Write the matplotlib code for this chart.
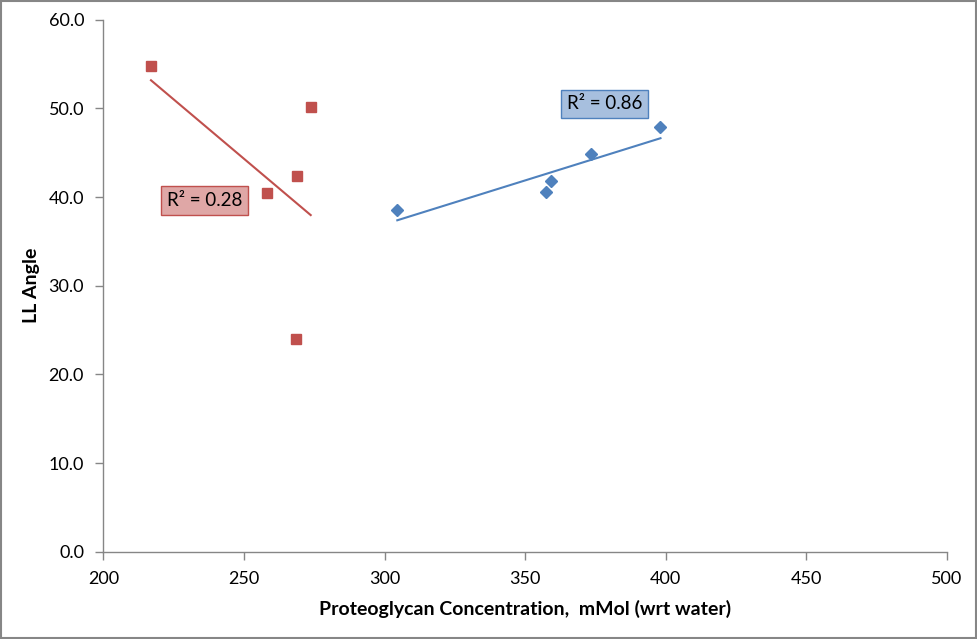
import numpy as np
import matplotlib
matplotlib.use('Agg')
import matplotlib.pyplot as plt
import matplotlib.patches as mpatches

# red series (squares)
red_x = [216.9, 273.7, 269.0, 258.0, 268.4]
red_y = [54.8, 50.2, 42.4, 40.5, 24.0]
# blue series (diamonds)
blue_x = [304.5, 357.5, 359.2, 373.4, 398.1]
blue_y = [38.5, 40.6, 41.8, 44.8, 47.9]

red_label = 'R² = 0.28'
blue_label = 'R² = 0.86'

x_ticks = [200, 250, 300, 350, 400, 450, 500]
y_ticks = [0, 10, 20, 30, 40, 50, 60]

red = '#C0504D'
blue = '#4F81BD'
axis_grey = '#868686'

plt.rcParams['font.family'] = ['Lato', 'DejaVu Sans']

fig = plt.figure(figsize=(9.78, 6.39), dpi=100, facecolor='w')
ax = fig.add_axes([0.1058, 0.1366, 0.8625, 0.8326])

ax.plot(red_x, red_y, ls='none', marker='s', ms=7.2, color=red, mec=red)
ax.plot(blue_x, blue_y, ls='none', marker='D', ms=6.5, color=blue, mec=blue)

# linear trendlines
for xs, ys, c in [(red_x, red_y, red), (blue_x, blue_y, blue)]:
    k, b = np.polyfit(xs, ys, 1)
    xx = np.array([min(xs), max(xs)])
    ax.plot(xx, k * xx + b, color=c, lw=1.5)

ax.text(235.9, 39.6, red_label, fontsize=13.5, ha='center', va='center',
        bbox=dict(boxstyle='square,pad=0.3', fc='#DFA7A6', ec=red, lw=1))
ax.text(378.2, 50.5, blue_label, fontsize=13.5, ha='center', va='center',
        bbox=dict(boxstyle='square,pad=0.3', fc='#A7BFDE', ec=blue, lw=1))

ax.set_xlim(200, 500)
ax.set_ylim(0, 60)
ax.set_xticks(x_ticks)
ax.set_yticks(y_ticks)
ax.set_yticklabels(['%.1f' % v for v in y_ticks])

for s in ['top', 'right']:
    ax.spines[s].set_visible(False)
for s in ['left', 'bottom']:
    ax.spines[s].set_color(axis_grey)
    ax.spines[s].set_linewidth(1)
ax.tick_params(direction='out', length=6, width=1, color=axis_grey,
               labelsize=13, pad=8)

ax.set_xlabel('Proteoglycan Concentration,  mMol (wrt water)', fontsize=14,
              fontweight='bold', labelpad=9)
ax.set_ylabel('LL Angle', fontsize=14, fontweight='bold', labelpad=6)

fig.patches.append(mpatches.Rectangle((0.001, 0.002), 0.997, 0.996,
                                      transform=fig.transFigure, fill=False,
                                      ec=axis_grey, lw=1.5))

fig.savefig('out.png', dpi=100, facecolor='w')
